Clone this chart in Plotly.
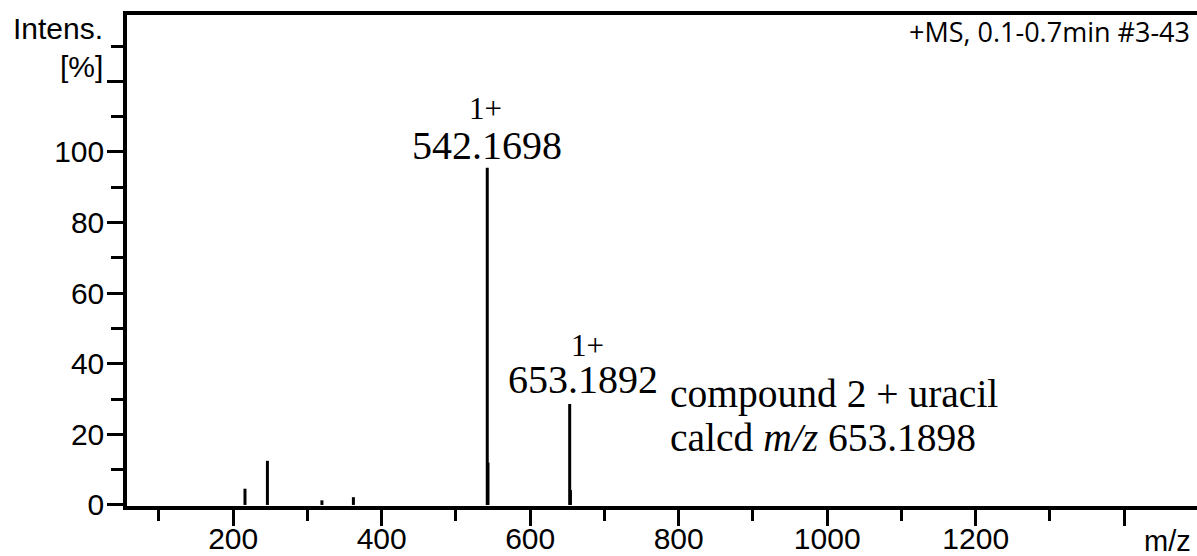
import plotly.graph_objects as go

# Peak data (m/z, relative intensity %)
mz = [215.9, 246.1, 319.5, 361.9, 542.17, 543.17, 653.19, 654.19]
intensity = [4.6, 12.5, 1.3, 2.2, 95.5, 12.0, 28.6, 4.2]

# Axis ticks
y_major = [0, 20, 40, 60, 80, 100, 120]
y_major_text = ["0", "20", "40", "60", "80", "100", ""]
x_major = [200, 400, 600, 800, 1000, 1200, 1400]
x_major_text = ["200", "400", "600", "800", "1000", "1200", ""]

xs, ys = [], []
for m, i in zip(mz, intensity):
    xs += [m, m, None]
    ys += [0, i, None]

fig = go.Figure()
fig.add_trace(go.Scatter(x=xs, y=ys, mode="lines",
                         line=dict(color="black", width=3),
                         hoverinfo="skip", showlegend=False))

serif = "Liberation Serif, Times New Roman, serif"
sans = "Liberation Sans, Arial, sans-serif"
K = "black"

annotations = [
    dict(x=542.17, y=101.8, text="542.1698", font=dict(family=serif, size=40, color=K)),
    dict(x=540, y=112.3, text="1+", font=dict(family=serif, size=31, color=K)),
    dict(x=671, y=35.6, text="653.1892", font=dict(family=serif, size=40, color=K)),
    dict(x=677, y=45.3, text="1+", font=dict(family=serif, size=31, color=K)),
]
for a in annotations:
    a.update(xref="x", yref="y", showarrow=False, xanchor="center", yanchor="middle")

annotations += [
    dict(x=786, y=31.3, xref="x", yref="y", text="compound 2 + uracil", showarrow=False,
         xanchor="left", yanchor="middle", font=dict(family=serif, size=39.5, color=K)),
    dict(x=786, y=19.1, xref="x", yref="y", text="calcd <i>m/z</i> 653.1898", showarrow=False,
         xanchor="left", yanchor="middle", font=dict(family=serif, size=39.5, color=K)),
    dict(x=-0.021, y=0.972, xref="paper", yref="paper", text="Intens.", showarrow=False,
         xanchor="right", yanchor="middle", font=dict(family=sans, size=30, color=K)),
    dict(x=-0.021, y=0.896, xref="paper", yref="paper", text="[%]", showarrow=False,
         xanchor="right", yanchor="middle", font=dict(family=sans, size=30, color=K)),
    dict(x=0.9953, y=0.966, xref="paper", yref="paper", text="+MS, 0.1-0.7min #3-43", showarrow=False,
         xanchor="right", yanchor="middle", font=dict(family="Open Sans, Noto Sans, sans-serif", size=27, color=K)),
    dict(x=0.9963, y=-0.072, xref="paper", yref="paper", text="m/z", showarrow=False,
         xanchor="right", yanchor="middle", font=dict(family=sans, size=29, color=K)),
]

fig.update_layout(
    template="none",
    width=1197, height=556,
    margin=dict(l=127, r=0, t=15, b=50, autoexpand=False),
    paper_bgcolor="white", plot_bgcolor="white",
    annotations=annotations,
    xaxis=dict(range=[57, 1498], showgrid=False, zeroline=False, automargin=False,
               showline=True, linecolor="black", linewidth=4, mirror=True,
               tickmode="array", tickvals=x_major, ticktext=x_major_text,
               ticks="outside", ticklen=16, tickwidth=3, tickcolor="black",
               ticklabelstandoff=-13,
               tickfont=dict(family=sans, size=30, color="black"),
               minor=dict(tickmode="linear", tick0=100, dtick=200, ticks="outside",
                          ticklen=11, tickwidth=3, tickcolor="black", showgrid=False)),
    yaxis=dict(range=[-0.3, 138.8], showgrid=False, zeroline=False, automargin=False,
               showline=True, linecolor="black", linewidth=3.5, mirror=False,
               tickmode="array", tickvals=y_major, ticktext=y_major_text,
               ticks="outside", ticklen=16, tickwidth=3, tickcolor="black",
               ticklabelstandoff=-3,
               tickfont=dict(family=sans, size=30, color="black"),
               minor=dict(tickmode="linear", tick0=10, dtick=20, ticks="outside",
                          ticklen=12, tickwidth=3, tickcolor="black", showgrid=False)),
)

fig.write_html("out.html")
